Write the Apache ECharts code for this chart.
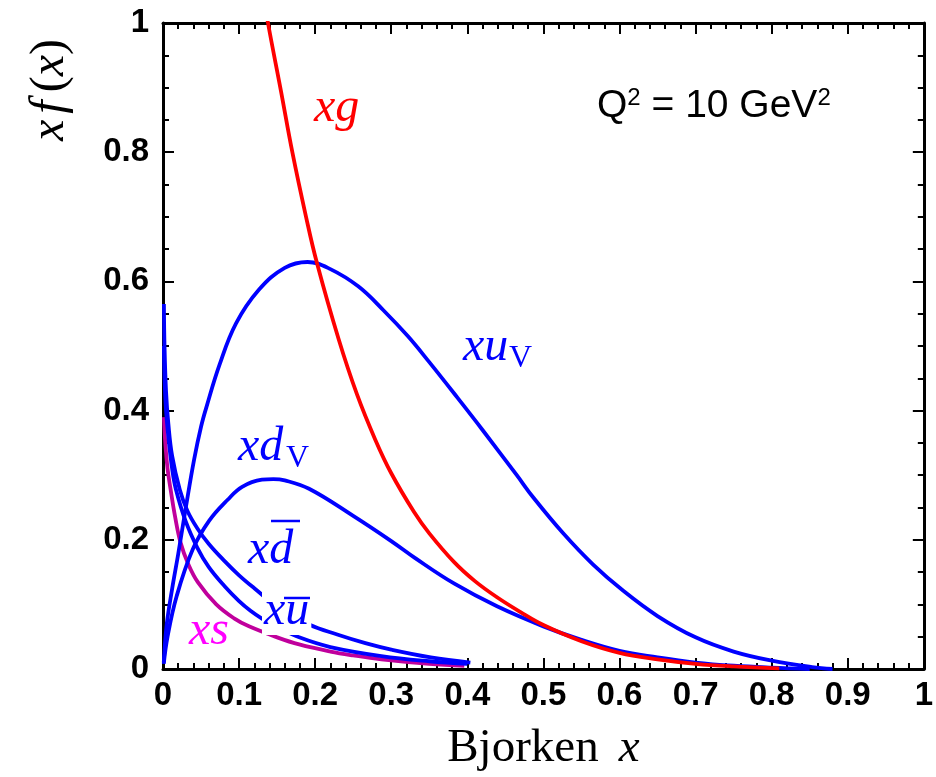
<!DOCTYPE html>
<html><head><meta charset="utf-8">
<script src="https://cdn.jsdelivr.net/npm/echarts@6/dist/echarts.min.js"></script>
<style>html,body{margin:0;padding:0;background:#fff}#c{width:936px;height:777px}</style>
</head><body><div id="c"></div>
<script>
// ---- data ----
const xuVX = [0.001,0.005,0.012,0.02,0.03,0.041,0.05,0.057,0.074,0.096,0.126,0.16,0.19,0.22,0.257,0.29,0.322,0.35,0.387,0.42,0.465,0.487,0.526,0.565,0.605,0.65,0.7,0.75,0.8,0.853,0.88];
const xuVY = [0.01,0.07,0.124,0.178,0.25,0.325,0.375,0.405,0.47,0.535,0.587,0.621,0.63,0.619,0.592,0.555,0.515,0.475,0.42,0.37,0.30,0.265,0.21,0.162,0.121,0.082,0.049,0.027,0.013,0.003,0.0];

const xdVX = [0.001,0.006,0.018,0.039,0.061,0.085,0.104,0.13,0.145,0.16,0.192,0.25,0.3,0.331,0.383,0.439,0.5,0.55,0.6,0.65,0.7,0.75,0.8,0.85];
const xdVY = [0.008,0.05,0.113,0.185,0.23,0.262,0.282,0.293,0.294,0.292,0.279,0.237,0.198,0.172,0.132,0.097,0.066,0.045,0.028,0.018,0.01,0.005,0.002,0.0];

const xgX = [0.125,0.138,0.155,0.17,0.188,0.202,0.231,0.255,0.279,0.3,0.33,0.35,0.383,0.41,0.439,0.47,0.5,0.55,0.6,0.65,0.7,0.75,0.81];
const xgY = [1.09,1.0,0.895,0.8,0.7,0.63,0.51,0.425,0.355,0.303,0.243,0.21,0.165,0.136,0.111,0.088,0.068,0.043,0.025,0.015,0.008,0.004,0.001];

const xdbarX = [0.0012,0.002,0.004,0.007,0.012,0.022,0.032,0.045,0.06,0.081,0.1,0.12,0.15,0.192,0.23,0.266,0.3,0.352,0.404];
const xdbarY = [0.565,0.50,0.43,0.38,0.33,0.278,0.245,0.218,0.194,0.167,0.145,0.125,0.097,0.069,0.053,0.04,0.03,0.018,0.01];

const xubarX = [0.0012,0.002,0.004,0.007,0.012,0.017,0.03,0.045,0.06,0.081,0.1,0.115,0.13,0.15,0.179,0.22,0.287,0.35,0.4];
const xubarY = [0.50,0.45,0.40,0.36,0.31,0.278,0.228,0.188,0.158,0.128,0.105,0.09,0.078,0.065,0.049,0.034,0.02,0.012,0.008];

const xsX = [0.0012,0.003,0.006,0.01,0.016,0.023,0.033,0.046,0.07,0.094,0.113,0.15,0.179,0.22,0.25,0.287,0.35,0.396];
const xsY = [0.39,0.35,0.31,0.278,0.235,0.196,0.163,0.134,0.1,0.078,0.066,0.049,0.038,0.027,0.021,0.015,0.008,0.005];

const xTickLabels = ['0','0.1','0.2','0.3','0.4','0.5','0.6','0.7','0.8','0.9','1'];
const yTickLabels = ['0','0.2','0.4','0.6','0.8','1'];

// ---- build ----
const zip = (xs, ys) => xs.map((x, i) => [x, ys[i]]);
const BLUE = '#0000ff', RED = '#ff0000', PURPLE = '#c0009c', PINK = '#ff00ff';
const SERIF = '"Liberation Serif","Times New Roman",serif';
const SANS = '"Liberation Sans",Arial,sans-serif';
const NARROW = '"Liberation Sans Narrow","Arial Narrow","Liberation Sans",sans-serif';

function lineSeries(name, xs, ys, color) {
  return {
    name, type: 'line', data: zip(xs, ys), showSymbol: false, symbol: 'none',
    smooth: 0.4, clip: true,
    lineStyle: { color, width: 3.8 }, z: 3
  };
}

const tickCommon = (split) => ({
  axisLine: { show: true, onZero: false, lineStyle: { color: '#000', width: 3 } },
  axisTick: { show: true, inside: true, length: 11, lineStyle: { color: '#000', width: 2 } },
  minorTick: { show: true, splitNumber: split, length: 6, lineStyle: { color: '#000', width: 2 } },
  splitLine: { show: false }, minorSplitLine: { show: false }
});

const xLabel = (v) => xTickLabels[Math.round(v * 10)];
const yLabel = (v) => yTickLabels[Math.round(v * 5)];

const italic48 = 'italic 48px ' + SERIF;
const chart = echarts.init(document.getElementById('c'), null, { renderer: 'canvas' });
chart.setOption({
  animation: false,
  backgroundColor: '#fff',
  grid: { left: 163, top: 23, width: 767, height: 647, containLabel: false },
  xAxis: [
    Object.assign({
      type: 'value', min: 0, max: 1, interval: 0.1, position: 'bottom',
      axisLabel: { formatter: xLabel, color: '#000', fontFamily: NARROW, fontWeight: 'bold', fontSize: 33, margin: 10 },
      name: '{a|Bjorken}{b|x}', nameLocation: 'middle', nameGap: 56,
      nameTextStyle: { rich: {
        a: { fontFamily: SERIF, fontSize: 47, color: '#000' },
        b: { fontFamily: SERIF, fontStyle: 'italic', fontSize: 47, color: '#000', padding: [0, 0, 0, 20] } } }
    }, tickCommon(5)),
    Object.assign({
      type: 'value', min: 0, max: 1, interval: 0.1, position: 'top',
      axisLabel: { show: false }
    }, tickCommon(5))
  ],
  yAxis: [
    Object.assign({
      type: 'value', min: 0, max: 1, interval: 0.2, position: 'left',
      axisLabel: { formatter: yLabel, color: '#000', fontFamily: NARROW, fontWeight: 'bold', fontSize: 33, margin: 14 }
    }, tickCommon(4)),
    Object.assign({
      type: 'value', min: 0, max: 1, interval: 0.2, position: 'right',
      axisLabel: { show: false }
    }, tickCommon(4))
  ],
  series: [
    lineSeries('xs', xsX, xsY, PURPLE),
    lineSeries('xubar', xubarX, xubarY, BLUE),
    lineSeries('xdbar', xdbarX, xdbarY, BLUE),
    lineSeries('xdV', xdVX, xdVY, BLUE),
    lineSeries('xuV', xuVX, xuVY, BLUE),
    lineSeries('xg', xgX, xgY, RED)
  ],
  graphic: [
    { type: 'text', z: 100, rotation: Math.PI / 2, x: 50, y: 90,
      style: { text: '{i|x}{f|f}{r|(}{i|x}{r|)}', align: 'center', verticalAlign: 'middle',
        rich: { i: { fontFamily: SERIF, fontStyle: 'italic', fontSize: 48, fill: '#000' },
                f: { fontFamily: SERIF, fontStyle: 'italic', fontSize: 48, fill: '#000', padding: [0, 8, 0, 6] },
                r: { fontFamily: SERIF, fontSize: 48, fill: '#000' } } } },
    { type: 'text', z: 100, x: 597, y: 106,
      style: { text: '{a|Q}{s|2}{a| = 10 GeV}{s|2}', align: 'left', verticalAlign: 'middle',
        rich: { a: { fontFamily: SANS, fontSize: 39, fill: '#000', lineHeight: 40 },
                s: { fontFamily: SANS, fontSize: 24, fill: '#000', verticalAlign: 'top', lineHeight: 24 } } } },
    { type: 'text', z: 100, x: 314, y: 108,
      style: { text: 'xg', font: italic48, fill: RED, align: 'left', verticalAlign: 'middle' } },
    { type: 'text', z: 100, x: 463, y: 347,
      style: { text: 'xu', font: italic48, fill: BLUE, align: 'left', verticalAlign: 'middle' } },
    { type: 'text', z: 100, x: 509, y: 359,
      style: { text: 'V', font: '32px ' + SERIF, fill: BLUE, align: 'left', verticalAlign: 'middle' } },
    { type: 'text', z: 100, x: 238, y: 447,
      style: { text: 'xd', font: italic48, fill: BLUE, align: 'left', verticalAlign: 'middle' } },
    { type: 'text', z: 100, x: 286, y: 459,
      style: { text: 'V', font: '32px ' + SERIF, fill: BLUE, align: 'left', verticalAlign: 'middle' } },
    { type: 'text', z: 100, x: 248, y: 550,
      style: { text: 'xd', font: italic48, fill: BLUE, align: 'left', verticalAlign: 'middle' } },
    { type: 'line', z: 100, shape: { x1: 271, y1: 521, x2: 300, y2: 521 }, style: { stroke: BLUE, lineWidth: 2.5 } },
    { type: 'text', z: 99, x: 262, y: 611,
      style: { text: 'xu', font: italic48, fill: BLUE, align: 'left', verticalAlign: 'middle',
        backgroundColor: '#fff', padding: [0, 2, 0, 2] } },
    { type: 'line', z: 100, shape: { x1: 284, y1: 598, x2: 310, y2: 598 }, style: { stroke: BLUE, lineWidth: 2.5 } },
    { type: 'text', z: 100, x: 189, y: 631,
      style: { text: 'xs', font: italic48, fill: PINK, align: 'left', verticalAlign: 'middle' } }
  ]
});
</script>
</body></html>
